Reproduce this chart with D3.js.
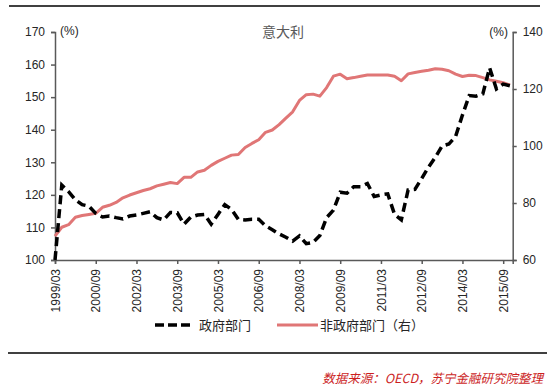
<!DOCTYPE html>
<html>
<head>
<meta charset="utf-8">
<script src="https://cdn.jsdelivr.net/npm/d3@7"></script>
<style>
  html, body { margin: 0; padding: 0; background: #fff; }
  svg { display: block; }
  text { font-family: "Liberation Sans", Arial, "Noto Sans CJK SC", sans-serif; }
  .cjk { font-family: "Noto Sans CJK SC", "Liberation Sans", sans-serif; }
</style>
</head>
<body>
<script>
// ---- data ----
const title = "意大利";
const tickLabels = ["1999/03","2000/09","2002/03","2003/09","2005/03","2006/09","2008/03","2009/09","2011/03","2012/09","2014/03","2015/09"];
// quarterly, starting 1999/03
const quarters = (() => { const q = []; for (let y = 1999; y <= 2015; y++) for (const m of ["03","06","09","12"]) q.push(y + "/" + m); return q; })();
const govSeries = [100,123,121,118.5,117,116.5,114.3,113.2,113.5,113,112.6,113.5,113.8,114.3,114.8,113,112.3,114.6,114.5,111,113.2,113.8,114,111,114,117,115.5,112.5,112.3,112.5,112.5,110.5,109.3,108,107,105.8,107.4,105,105.4,107.5,113,115.3,120.8,120.5,122.5,122.5,123.5,119.5,120,120.3,114,112.3,121.5,121.7,125,128.5,131.5,135,135.6,138,144.5,150.5,150.3,151,159,152.5,154,153.5];
const nonGovSeries = [68.4,71.5,72.4,75,75.6,76,76.4,78.5,79.2,80.2,81.8,82.8,83.6,84.4,85,86,86.6,87.2,86.8,89,89,90.9,91.5,93.2,94.6,95.7,96.8,97,99.5,100.9,102.2,104.8,105.6,107.5,109.8,112,116,118,118.2,117.5,120.5,124.5,125.2,123.6,124,124.5,124.9,124.9,124.9,124.9,124.5,122.9,125.3,125.8,126.2,126.6,127.1,126.9,126.4,125.2,124.4,124.8,124.7,124,123.2,122.7,122.2,121.4];
const leftTicks = [100,110,120,130,140,150,160,170];
const rightTicks = [60,80,100,120,140];
const legendLabels = ["政府部门","非政府部门（右）"];
const sourceText = "数据来源：OECD，苏宁金融研究院整理";

// ---- layout ----
const W = 550, H = 390;
const svg = d3.select("body").append("svg").attr("width", W).attr("height", H);

const x = d3.scaleLinear().domain([0, 67.4]).range([55, 512.7]);
const yL = d3.scaleLinear().domain([100, 170]).range([260, 32]);
const yR = d3.scaleLinear().domain([60, 140]).range([260, 32]);

const axisColor = "#595959";
const textColor = "#262626";

// top / bottom rules
svg.append("line").attr("x1", 9).attr("x2", 540).attr("y1", 6).attr("y2", 6).attr("stroke", "#000").attr("stroke-width", 1.5);
svg.append("line").attr("x1", 8).attr("x2", 547).attr("y1", 353).attr("y2", 353).attr("stroke", "#000").attr("stroke-width", 1.5);

// title
svg.append("text").attr("class", "cjk").attr("x", 283).attr("y", 37).attr("text-anchor", "middle")
  .attr("font-size", 14).attr("fill", "#595959").text(title);

// left axis
const gL = svg.append("g").attr("transform", "translate(55,0)")
  .call(d3.axisLeft(yL).tickValues(leftTicks).tickSize(4).tickPadding(6));
// right axis
const gR = svg.append("g").attr("transform", "translate(512.7,0)")
  .call(d3.axisRight(yR).tickValues(rightTicks).tickSize(4).tickPadding(6));
// bottom axis
const gB = svg.append("g").attr("transform", "translate(0,260)")
  .call(d3.axisBottom(x).tickValues(tickLabels.map(t => quarters.indexOf(t))).tickFormat(i => quarters[i]).tickSize(4).tickPadding(4));

[gL, gR, gB].forEach(g => {
  g.select(".domain").attr("stroke", axisColor).attr("stroke-width", 1.5);
  g.selectAll(".tick line").attr("stroke", axisColor).attr("stroke-width", 1.5);
  g.selectAll("text").attr("font-size", 12).attr("fill", textColor)
    .attr("font-family", "'Liberation Sans', Arial, sans-serif");
});
gB.selectAll("text").attr("transform", "rotate(-90)").attr("text-anchor", "end")
  .attr("x", -9).attr("y", 0).attr("dy", "0.35em");

// (%) labels
svg.append("text").attr("x", 60).attr("y", 35).attr("font-size", 12).attr("fill", textColor).text("(%)");
svg.append("text").attr("x", 508).attr("y", 36).attr("text-anchor", "end").attr("font-size", 12).attr("fill", textColor).text("(%)");

// lines
const redColor = "#e07676";
const lineR = d3.line().x((d, i) => x(i)).y(d => yR(d));
const lineL = d3.line().x((d, i) => x(i)).y(d => yL(d));

svg.append("path").datum(nonGovSeries).attr("d", lineR).attr("fill", "none")
  .attr("stroke", redColor).attr("stroke-width", 3).attr("stroke-linejoin", "round");
svg.append("path").datum(govSeries).attr("d", lineL).attr("fill", "none")
  .attr("stroke", "#000").attr("stroke-width", 3.5).attr("stroke-dasharray", "9,5");

// legend
const ly = 325;
svg.append("line").attr("x1", 155).attr("x2", 192).attr("y1", ly).attr("y2", ly)
  .attr("stroke", "#000").attr("stroke-width", 3.5).attr("stroke-dasharray", "9,4");
svg.append("text").attr("class", "cjk").attr("x", 199).attr("y", ly + 5).attr("font-size", 13).attr("fill", textColor).text(legendLabels[0]);
svg.append("line").attr("x1", 277).attr("x2", 318).attr("y1", ly).attr("y2", ly)
  .attr("stroke", redColor).attr("stroke-width", 3);
svg.append("text").attr("class", "cjk").attr("x", 320).attr("y", ly + 5).attr("font-size", 13).attr("fill", textColor).text(legendLabels[1]);

// source
svg.append("text").attr("class", "cjk").attr("x", 543).attr("y", 383).attr("text-anchor", "end")
  .attr("font-size", 12.5).attr("font-style", "italic").attr("fill", "#cc1f1f").text(sourceText);
</script>
</body>
</html>
